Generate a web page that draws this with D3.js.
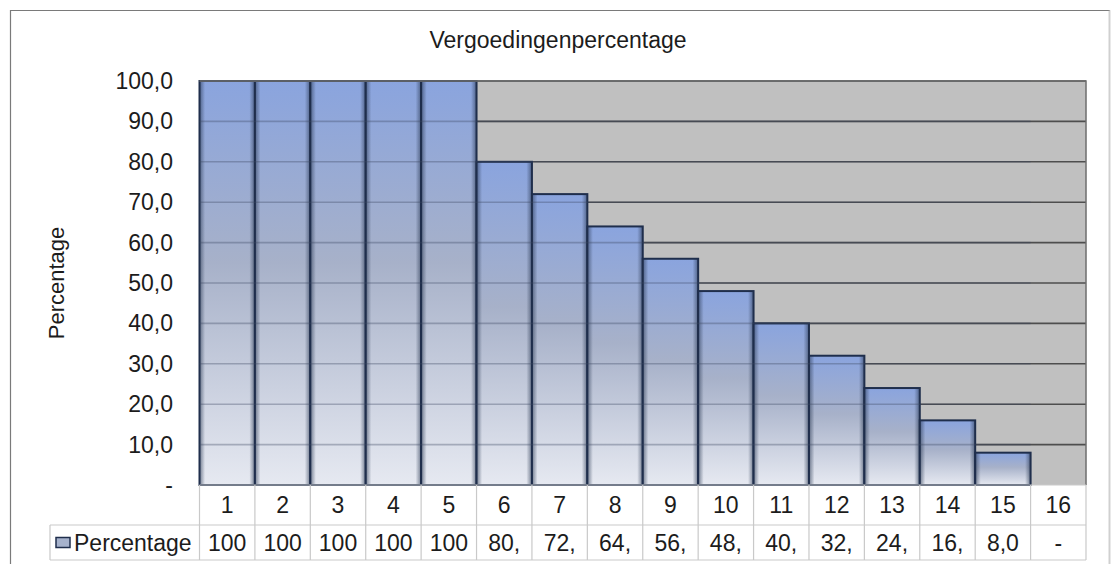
<!DOCTYPE html>
<html>
<head>
<meta charset="utf-8">
<script src="https://cdn.jsdelivr.net/npm/d3@7"></script>
<style>
  body { margin: 0; background: #fff; }
  text { font-family: "Liberation Sans", Arial, sans-serif; fill: #1c1c1c; }
</style>
</head>
<body>
<div id="chart"></div>
<script>
// chart data
const categories = ["1", "2", "3", "4", "5", "6", "7", "8", "9", "10", "11", "12", "13", "14", "15", "16"];
const percentages = [100, 100, 100, 100, 100, 80, 72, 64, 56, 48, 40, 32, 24, 16, 8, 0];
const yTicks = [0, 10, 20, 30, 40, 50, 60, 70, 80, 90, 100];
const seriesName = "Percentage";
const chartTitle = "Vergoedingenpercentage";
const yTitle = "Percentage";

const w = 1111;
const h = 564;
const plot = { left: 199.5, right: 1086, top: 81, bottom: 485 };
const row1 = 525; // bottom of category row
const row2 = 560; // bottom of value row
const legendLeft = 50;
const fs = "23px";

// dutch number format, comma as decimal mark
const nl = d3.formatLocale({ decimal: ",", thousands: ".", grouping: [3], currency: ["€", ""] });
const fmt = nl.format(".1f");
const tickText = (v) => (v === 0 ? "-" : fmt(v));
// table cells are too narrow, so Excel cuts the text to 3 characters
const cellText = (v) => (v === 0 ? "-" : fmt(v).slice(0, 3));

const svg = d3.select("#chart").append("svg").attr("width", w).attr("height", h);

const x = d3.scaleBand().domain(categories).range([plot.left, plot.right]).paddingInner(0).paddingOuter(0);
const y = d3.scaleLinear().domain([0, 100]).range([plot.bottom, plot.top]);

// gradients for the bars
const defs = svg.append("defs");
const vg = defs.append("linearGradient").attr("id", "barFill").attr("x1", 0).attr("y1", 0).attr("x2", 0).attr("y2", 1);
vg.append("stop").attr("offset", "0%").attr("stop-color", "#8aa4de");
vg.append("stop").attr("offset", "45%").attr("stop-color", "#a7b1c9");
vg.append("stop").attr("offset", "100%").attr("stop-color", "#e6e9f1");
const hg = defs.append("linearGradient").attr("id", "barEdge").attr("x1", 0).attr("y1", 0).attr("x2", 1).attr("y2", 0);
hg.append("stop").attr("offset", "0%").attr("stop-color", "#26354f").attr("stop-opacity", 0.6);
hg.append("stop").attr("offset", "10%").attr("stop-color", "#26354f").attr("stop-opacity", 0);
hg.append("stop").attr("offset", "90%").attr("stop-color", "#26354f").attr("stop-opacity", 0);
hg.append("stop").attr("offset", "100%").attr("stop-color", "#26354f").attr("stop-opacity", 0.6);

// outer chart frame
svg.append("path")
  .attr("d", "M10.5,600V10.5H1109.5V600")
  .attr("fill", "none").attr("stroke", "#7a7a7a").attr("stroke-width", 1.2);
svg.append("line")
  .attr("x1", 1109.5).attr("x2", 1109.5).attr("y1", 10.5).attr("y2", 600)
  .attr("stroke", "#d0d0d0").attr("stroke-width", 1.5);

// title
svg.append("text")
  .attr("x", 558).attr("y", 48)
  .attr("text-anchor", "middle")
  .style("font-size", fs)
  .text(chartTitle);

// plot background
svg.append("rect")
  .attr("x", plot.left).attr("y", plot.top)
  .attr("width", plot.right - plot.left).attr("height", plot.bottom - plot.top)
  .attr("fill", "#c0c0c0");

// gridlines behind the bars
const gridVals = yTicks.filter((d) => d > 0);
svg.append("g")
  .selectAll("line")
  .data(gridVals)
  .enter()
  .append("line")
  .attr("x1", plot.left).attr("x2", plot.right)
  .attr("y1", (d) => y(d)).attr("y2", (d) => y(d))
  .attr("stroke", "#4e4e4e").attr("stroke-width", 1.6);

// bars
const bars = svg.append("g")
  .selectAll("g")
  .data(percentages.map((v, i) => ({ cat: categories[i], v: v })).filter((d) => d.v > 0))
  .enter()
  .append("g");

bars.append("rect")
  .attr("x", (d) => x(d.cat)).attr("y", (d) => y(d.v))
  .attr("width", x.bandwidth()).attr("height", (d) => y(0) - y(d.v))
  .attr("fill", "url(#barFill)");
bars.append("rect")
  .attr("x", (d) => x(d.cat)).attr("y", (d) => y(d.v))
  .attr("width", x.bandwidth()).attr("height", (d) => y(0) - y(d.v))
  .attr("fill", "url(#barEdge)");

// faint gridlines showing through the bars
svg.append("g")
  .selectAll("line")
  .data(gridVals)
  .enter()
  .append("line")
  .attr("x1", plot.left).attr("x2", x("15") + x.bandwidth())
  .attr("y1", (d) => y(d)).attr("y2", (d) => y(d))
  .attr("stroke", "#3c4760").attr("stroke-opacity", 0.35).attr("stroke-width", 1.6);

// bar outlines
bars.append("rect")
  .attr("x", (d) => x(d.cat)).attr("y", (d) => y(d.v))
  .attr("width", x.bandwidth()).attr("height", (d) => y(0) - y(d.v))
  .attr("fill", "none").attr("stroke", "#1f2e4c").attr("stroke-width", 2);

// plot frame top and right
svg.append("path")
  .attr("d", `M${plot.left},${plot.top}H${plot.right}V${plot.bottom}`)
  .attr("fill", "none").attr("stroke", "#6e6e6e").attr("stroke-width", 1.5);

// y axis labels
svg.append("g")
  .selectAll("text")
  .data(yTicks)
  .enter()
  .append("text")
  .attr("x", 173).attr("y", (d) => y(d))
  .attr("dy", "0.35em")
  .attr("text-anchor", "end")
  .style("font-size", fs)
  .text(tickText);

// y axis title
svg.append("text")
  .attr("transform", `translate(64, ${(plot.top + plot.bottom) / 2}) rotate(-90)`)
  .attr("text-anchor", "middle")
  .style("font-size", "22px")
  .text(yTitle);

// data table
const table = svg.append("g").attr("stroke", "#c9c9c9").attr("stroke-width", 1.2);
table.append("line").attr("x1", plot.left).attr("x2", plot.right).attr("y1", plot.bottom).attr("y2", plot.bottom);
table.append("line").attr("x1", legendLeft).attr("x2", plot.right).attr("y1", row1).attr("y2", row1);
table.append("line").attr("x1", legendLeft).attr("x2", plot.right).attr("y1", row2).attr("y2", row2);
table.append("line").attr("x1", legendLeft).attr("x2", legendLeft).attr("y1", row1).attr("y2", row2);
table.selectAll(".sep")
  .data(categories.concat(["end"]))
  .enter()
  .append("line")
  .attr("class", "sep")
  .attr("x1", (d, i) => plot.left + i * x.bandwidth())
  .attr("x2", (d, i) => plot.left + i * x.bandwidth())
  .attr("y1", plot.bottom).attr("y2", row2);

svg.append("g")
  .selectAll("text")
  .data(categories)
  .enter()
  .append("text")
  .attr("x", (d) => x(d) + x.bandwidth() / 2)
  .attr("y", (plot.bottom + row1) / 2)
  .attr("dy", "0.36em")
  .attr("text-anchor", "middle")
  .style("font-size", fs)
  .text((d) => d);

svg.append("g")
  .selectAll("text")
  .data(percentages)
  .enter()
  .append("text")
  .attr("x", (d, i) => x(categories[i]) + x.bandwidth() / 2)
  .attr("y", (row1 + row2) / 2)
  .attr("dy", "0.36em")
  .attr("text-anchor", "middle")
  .style("font-size", fs)
  .text(cellText);

// legend key inside the table
svg.append("rect")
  .attr("x", 56).attr("y", 537.5)
  .attr("width", 14).attr("height", 10)
  .attr("fill", "#a6b2cc").attr("stroke", "#1f2e4c").attr("stroke-width", 1.5);
svg.append("text")
  .attr("x", 74).attr("y", (row1 + row2) / 2)
  .attr("dy", "0.36em")
  .style("font-size", fs)
  .text(seriesName);
</script>
</body>
</html>
